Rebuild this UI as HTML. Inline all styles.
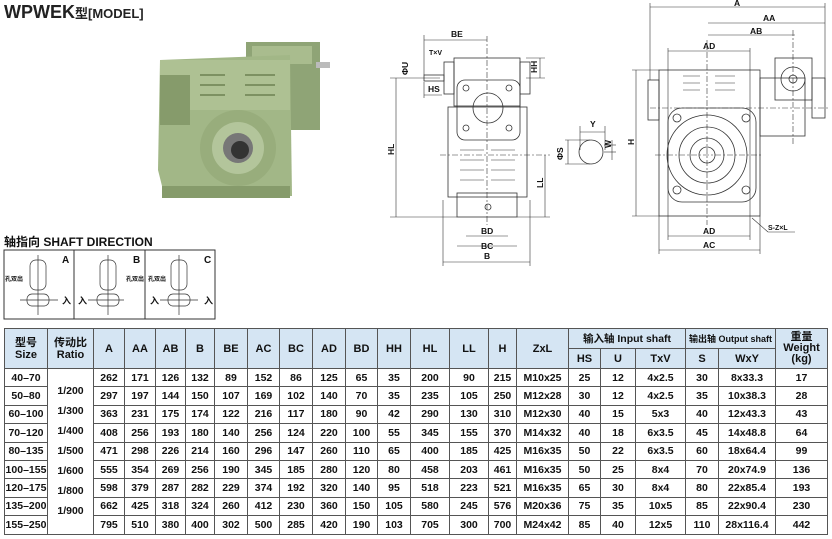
<!DOCTYPE html>
<html><head><meta charset="utf-8"><style>
body{margin:0;width:832px;height:539px;background:#fff;overflow:hidden;position:relative;font-family:"Liberation Sans","Noto Sans CJK SC",sans-serif}
.t{position:absolute;left:4px;top:2px;font-weight:bold;font-size:18px;color:#222}
.t span{font-size:13px}
table{position:absolute;left:4px;top:328px;border-collapse:collapse;font-size:10.5px;font-weight:bold;color:#111;table-layout:fixed;width:823px}
td,th{border:1px solid #555;text-align:center;padding:0;height:17.4px;line-height:12px;white-space:nowrap;overflow:hidden}
th{background:#d5e5f3;font-size:11px;height:19px}
</style></head><body>
<div class="t">WPWEK<span>型[MODEL]</span></div>
<svg width="832" height="325" style="position:absolute;left:0;top:0" font-family="Liberation Sans, Noto Sans CJK SC, sans-serif" font-weight="bold">
<g>
<rect x="246" y="42" width="74" height="88" fill="#8fa476"/>
<rect x="252" y="46" width="60" height="18" fill="#a9bc8e"/>
<rect x="316" y="62" width="14" height="6" fill="#bbb"/>
<polygon points="160,60 290,55 292,196 165,198 158,170" fill="#a2b787"/>
<rect x="160" y="60" width="130" height="50" fill="#aec193"/>
<rect x="160" y="75" width="30" height="50" fill="#869b6b"/>
<g stroke="#7d9162" stroke-width="2"><line x1="200" y1="75" x2="225" y2="75"/><line x1="200" y1="85" x2="225" y2="85"/><line x1="200" y1="95" x2="225" y2="95"/><line x1="245" y1="75" x2="275" y2="75"/><line x1="245" y1="85" x2="275" y2="85"/><line x1="245" y1="95" x2="275" y2="95"/></g>
<circle cx="238" cy="148" r="38" fill="#98ad7c"/>
<circle cx="238" cy="148" r="26" fill="#b3c59b"/>
<circle cx="238" cy="148" r="15" fill="#777"/>
<circle cx="240" cy="150" r="9" fill="#333"/>
<rect x="162" y="186" width="128" height="12" fill="#869b6b"/>
</g>
<text x="4" y="246" font-size="12" fill="#111">轴指向  SHAFT DIRECTION</text>
<g fill="none" stroke="#333" stroke-width="1">
<rect x="4" y="250" width="211" height="69"/>
<line x1="74" y1="250" x2="74" y2="319"/><line x1="145" y1="250" x2="145" y2="319"/>
<g stroke-width="0.7">
<rect x="30" y="260" width="16" height="30" rx="6"/><rect x="27" y="294" width="22" height="12" rx="5"/>
<rect x="100" y="260" width="16" height="30" rx="6"/><rect x="97" y="294" width="22" height="12" rx="5"/>
<rect x="171" y="260" width="16" height="30" rx="6"/><rect x="168" y="294" width="22" height="12" rx="5"/>
<line x1="20" y1="300" x2="58" y2="300"/><line x1="88" y1="300" x2="124" y2="300"/><line x1="160" y1="300" x2="198" y2="300"/>
<line x1="38" y1="255" x2="38" y2="315"/><line x1="108" y1="255" x2="108" y2="315"/><line x1="179" y1="255" x2="179" y2="315"/>
</g></g>
<g font-size="10" fill="#111"><text x="62" y="263">A</text><text x="133" y="263">B</text><text x="204" y="263">C</text>
<text x="62" y="304" font-size="9">入</text><text x="78" y="304" font-size="9">入</text><text x="150" y="304" font-size="9">入</text><text x="204" y="304" font-size="9">入</text>
<text x="5" y="281" font-size="6">孔双出</text><text x="126" y="281" font-size="6">孔双出</text><text x="148" y="281" font-size="6">孔双出</text></g>
<g fill="none" stroke="#333" stroke-width="0.8">
<rect x="454" y="58" width="66" height="48"/>
<rect x="448" y="107" width="79" height="90"/>
<rect x="457" y="80" width="63" height="60" rx="8"/>
<circle cx="488" cy="108" r="15"/>
<circle cx="466" cy="88" r="3"/><circle cx="509" cy="88" r="3"/><circle cx="466" cy="128" r="3"/><circle cx="509" cy="128" r="3"/>
<rect x="457" y="193" width="60" height="24"/>
<g stroke-width="0.6"><line x1="460" y1="150" x2="484" y2="150"/><line x1="460" y1="160" x2="484" y2="160"/><line x1="460" y1="170" x2="484" y2="170"/><line x1="460" y1="180" x2="484" y2="180"/>
<line x1="491" y1="150" x2="515" y2="150"/><line x1="491" y1="160" x2="515" y2="160"/><line x1="491" y1="170" x2="515" y2="170"/><line x1="491" y1="180" x2="515" y2="180"/></g>
<rect x="424" y="75" width="20" height="6"/><rect x="444" y="62" width="10" height="32"/><rect x="520" y="62" width="10" height="32"/>
<circle cx="488" cy="207" r="3"/>
<g stroke-dasharray="6,2,2,2" stroke-width="0.6"><line x1="487" y1="36" x2="487" y2="225"/><line x1="440" y1="155" x2="550" y2="155"/></g>
<g stroke-width="0.6">
<line x1="424" y1="40" x2="487" y2="40"/><line x1="424" y1="35" x2="424" y2="75"/>
<line x1="396" y1="78" x2="396" y2="217"/><line x1="390" y1="78" x2="440" y2="78"/><line x1="390" y1="217" x2="457" y2="217"/>
<line x1="545" y1="155" x2="545" y2="217"/><line x1="517" y1="217" x2="550" y2="217"/>
<line x1="526" y1="58" x2="545" y2="58"/><line x1="526" y1="78" x2="545" y2="78"/><line x1="540" y1="58" x2="540" y2="78"/>
<line x1="466" y1="236" x2="508" y2="236"/><line x1="457" y1="246" x2="517" y2="246"/><line x1="443" y1="262" x2="530" y2="262"/>
<line x1="443" y1="200" x2="443" y2="266"/><line x1="530" y1="200" x2="530" y2="266"/>
<line x1="424" y1="95" x2="442" y2="95"/><line x1="424" y1="82" x2="424" y2="98"/>
</g>
<circle cx="591" cy="152" r="12"/>
<g stroke-width="0.6"><line x1="580" y1="132" x2="605" y2="132"/><line x1="580" y1="126" x2="580" y2="150"/><line x1="605" y1="126" x2="605" y2="150"/>
<line x1="568" y1="140" x2="568" y2="164"/><line x1="565" y1="140" x2="590" y2="140"/><line x1="565" y1="164" x2="590" y2="164"/>
<line x1="612" y1="140" x2="612" y2="160"/><line x1="604" y1="145" x2="616" y2="145"/><line x1="604" y1="152" x2="616" y2="152"/></g>
</g>
<g font-size="8.5" fill="#111">
<text x="451" y="37">BE</text><text x="429" y="55" font-size="7">T×V</text><text x="428" y="92">HS</text>
<text x="394" y="155" transform="rotate(-90 394 155)">HL</text><text x="543" y="188" transform="rotate(-90 543 188)">LL</text>
<text x="537" y="73" transform="rotate(-90 537 73)">HH</text><text x="408" y="75" transform="rotate(-90 408 75)">ΦU</text>
<text x="481" y="234">BD</text><text x="481" y="249">BC</text><text x="484" y="259">B</text>
<text x="590" y="127">Y</text><text x="563" y="160" transform="rotate(-90 563 160)">ΦS</text><text x="611" y="148" transform="rotate(-90 611 148)">W</text>
</g>
<g fill="none" stroke="#333" stroke-width="0.8">
<rect x="659" y="70" width="101" height="146"/>
<rect x="668" y="108" width="88" height="94" rx="14"/>
<circle cx="707" cy="155" r="40"/><circle cx="707" cy="155" r="28"/><circle cx="707" cy="155" r="17"/><circle cx="707" cy="155" r="8"/>
<circle cx="677" cy="118" r="4"/><circle cx="746" cy="118" r="4"/><circle cx="677" cy="190" r="4"/><circle cx="746" cy="190" r="4"/>
<rect x="760" y="78" width="45" height="58"/><rect x="775" y="58" width="37" height="42"/>
<circle cx="793" cy="79" r="12"/><circle cx="793" cy="79" r="4"/>
<rect x="812" y="78" width="13" height="40"/><rect x="648" y="80" width="11" height="40"/>
<g stroke-width="0.6"><line x1="683" y1="76" x2="700" y2="76"/><line x1="683" y1="83" x2="700" y2="83"/><line x1="683" y1="90" x2="700" y2="90"/><line x1="715" y1="76" x2="735" y2="76"/><line x1="715" y1="83" x2="735" y2="83"/><line x1="715" y1="90" x2="735" y2="90"/></g>
<g stroke-dasharray="6,2,2,2" stroke-width="0.6"><line x1="707" y1="40" x2="707" y2="225"/><line x1="655" y1="155" x2="762" y2="155"/><line x1="650" y1="108" x2="828" y2="108"/><line x1="793" y1="30" x2="793" y2="145"/></g>
<g stroke-width="0.6">
<line x1="650" y1="7" x2="825" y2="7"/><line x1="650" y1="3" x2="650" y2="80"/><line x1="825" y1="3" x2="825" y2="90"/>
<line x1="708" y1="23" x2="825" y2="23"/><line x1="708" y1="35" x2="795" y2="35"/>
<line x1="668" y1="51" x2="750" y2="51"/><line x1="668" y1="48" x2="668" y2="240"/><line x1="750" y1="48" x2="750" y2="240"/>
<line x1="636" y1="70" x2="636" y2="216"/><line x1="632" y1="70" x2="659" y2="70"/><line x1="632" y1="216" x2="659" y2="216"/>
<line x1="668" y1="236" x2="750" y2="236"/><line x1="659" y1="250" x2="760" y2="250"/><line x1="659" y1="216" x2="659" y2="254"/><line x1="760" y1="216" x2="760" y2="254"/>
<line x1="752" y1="218" x2="768" y2="232"/><line x1="768" y1="232" x2="795" y2="232"/></g>
</g>
<g font-size="8.5" fill="#111">
<text x="734" y="6">A</text><text x="763" y="21">AA</text><text x="750" y="34">AB</text><text x="703" y="49">AD</text>
<text x="634" y="145" transform="rotate(-90 634 145)">H</text><text x="703" y="234">AD</text><text x="703" y="248">AC</text><text x="768" y="230" font-size="7">S-Z×L</text>
</g>
</svg>
<table>
<colgroup><col style="width:43px"><col style="width:46px"><col style="width:31px"><col style="width:31px"><col style="width:30px"><col style="width:29px"><col style="width:33px"><col style="width:32px"><col style="width:33px"><col style="width:33px"><col style="width:32px"><col style="width:33px"><col style="width:39px"><col style="width:39px"><col style="width:28px"><col style="width:52px"><col style="width:32px"><col style="width:35px"><col style="width:50px"><col style="width:33px"><col style="width:57px"><col style="width:52px"></colgroup>
<tr><th rowspan="2">型号<br>Size</th><th rowspan="2">传动比<br>Ratio</th><th rowspan="2">A</th><th rowspan="2">AA</th><th rowspan="2">AB</th><th rowspan="2">B</th><th rowspan="2">BE</th><th rowspan="2">AC</th><th rowspan="2">BC</th><th rowspan="2">AD</th><th rowspan="2">BD</th><th rowspan="2">HH</th><th rowspan="2">HL</th><th rowspan="2">LL</th><th rowspan="2">H</th><th rowspan="2">ZxL</th><th colspan="3" style="font-size:10.5px">输入轴 Input shaft</th><th colspan="2" style="font-size:9px">输出轴 Output shaft</th><th rowspan="2" style="line-height:11px">重量<br>Weight<br>(kg)</th></tr>
<tr><th>HS</th><th>U</th><th>TxV</th><th>S</th><th>WxY</th></tr>
<tr><td>40–70</td><td rowspan="9" style="vertical-align:middle;line-height:20px">1/200<br>1/300<br>1/400<br>1/500<br>1/600<br>1/800<br>1/900</td><td>262</td><td>171</td><td>126</td><td>132</td><td>89</td><td>152</td><td>86</td><td>125</td><td>65</td><td>35</td><td>200</td><td>90</td><td>215</td><td>M10x25</td><td>25</td><td>12</td><td>4x2.5</td><td>30</td><td>8x33.3</td><td>17</td></tr>
<tr><td>50–80</td><td>297</td><td>197</td><td>144</td><td>150</td><td>107</td><td>169</td><td>102</td><td>140</td><td>70</td><td>35</td><td>235</td><td>105</td><td>250</td><td>M12x28</td><td>30</td><td>12</td><td>4x2.5</td><td>35</td><td>10x38.3</td><td>28</td></tr>
<tr><td>60–100</td><td>363</td><td>231</td><td>175</td><td>174</td><td>122</td><td>216</td><td>117</td><td>180</td><td>90</td><td>42</td><td>290</td><td>130</td><td>310</td><td>M12x30</td><td>40</td><td>15</td><td>5x3</td><td>40</td><td>12x43.3</td><td>43</td></tr>
<tr><td>70–120</td><td>408</td><td>256</td><td>193</td><td>180</td><td>140</td><td>256</td><td>124</td><td>220</td><td>100</td><td>55</td><td>345</td><td>155</td><td>370</td><td>M14x32</td><td>40</td><td>18</td><td>6x3.5</td><td>45</td><td>14x48.8</td><td>64</td></tr>
<tr><td>80–135</td><td>471</td><td>298</td><td>226</td><td>214</td><td>160</td><td>296</td><td>147</td><td>260</td><td>110</td><td>65</td><td>400</td><td>185</td><td>425</td><td>M16x35</td><td>50</td><td>22</td><td>6x3.5</td><td>60</td><td>18x64.4</td><td>99</td></tr>
<tr><td>100–155</td><td>555</td><td>354</td><td>269</td><td>256</td><td>190</td><td>345</td><td>185</td><td>280</td><td>120</td><td>80</td><td>458</td><td>203</td><td>461</td><td>M16x35</td><td>50</td><td>25</td><td>8x4</td><td>70</td><td>20x74.9</td><td>136</td></tr>
<tr><td>120–175</td><td>598</td><td>379</td><td>287</td><td>282</td><td>229</td><td>374</td><td>192</td><td>320</td><td>140</td><td>95</td><td>518</td><td>223</td><td>521</td><td>M16x35</td><td>65</td><td>30</td><td>8x4</td><td>80</td><td>22x85.4</td><td>193</td></tr>
<tr><td>135–200</td><td>662</td><td>425</td><td>318</td><td>324</td><td>260</td><td>412</td><td>230</td><td>360</td><td>150</td><td>105</td><td>580</td><td>245</td><td>576</td><td>M20x36</td><td>75</td><td>35</td><td>10x5</td><td>85</td><td>22x90.4</td><td>230</td></tr>
<tr><td>155–250</td><td>795</td><td>510</td><td>380</td><td>400</td><td>302</td><td>500</td><td>285</td><td>420</td><td>190</td><td>103</td><td>705</td><td>300</td><td>700</td><td>M24x42</td><td>85</td><td>40</td><td>12x5</td><td>110</td><td>28x116.4</td><td>442</td></tr>
</table>
</body></html>
